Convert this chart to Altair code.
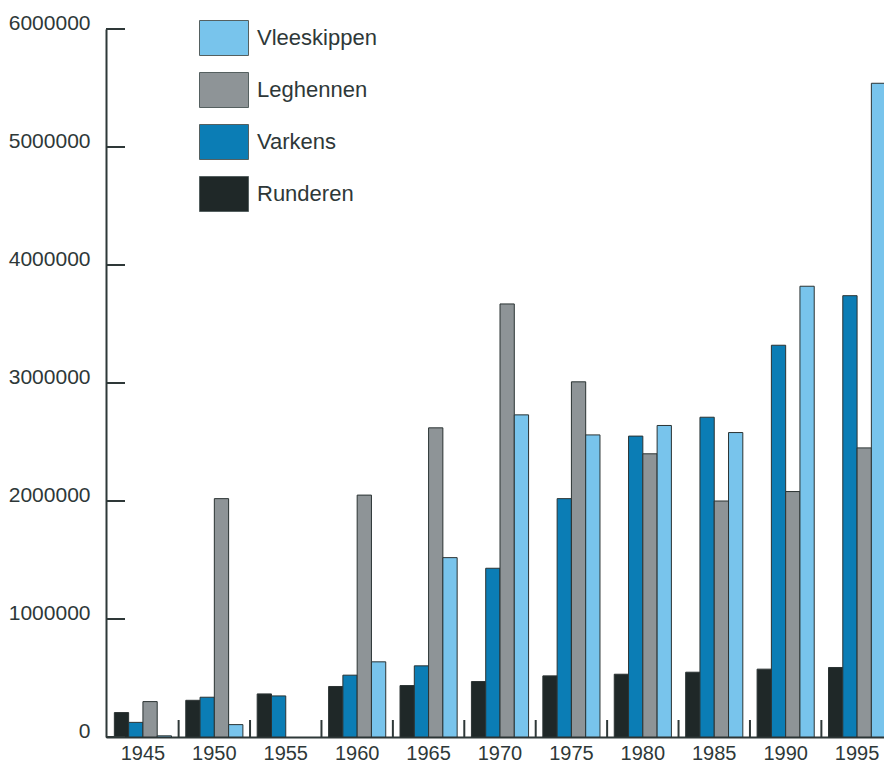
import altair as alt
import pandas as pd

years = ["1945", "1950", "1955", "1960", "1965", "1970", "1975", "1980", "1985", "1990", "1995"]
runderen = [207000, 311000, 365000, 428000, 436000, 470000, 518000, 532000, 549000, 575000, 589000]
varkens = [124000, 337000, 348000, 524000, 603000, 1430000, 2020000, 2550000, 2710000, 3320000, 3740000]
leghennen = [300000, 2020000, None, 2050000, 2620000, 3670000, 3010000, 2400000, 2000000, 2080000, 2450000]
vleeskippen = [10000, 105000, None, 637000, 1520000, 2730000, 2560000, 2640000, 2580000, 3820000, 5540000]

series_order = ["Runderen", "Varkens", "Leghennen", "Vleeskippen"]
legend_order = ["Vleeskippen", "Leghennen", "Varkens", "Runderen"]
legend_colors = ["#78c4ec", "#8e9497", "#0b7db5", "#1f2828"]
y_ticks = [0, 1000000, 2000000, 3000000, 4000000, 5000000, 6000000]

rows = []
for name, vals in zip(series_order, [runderen, varkens, leghennen, vleeskippen]):
    for yr, v in zip(years, vals):
        rows.append({"jaar": yr, "soort": name, "aantal": v})
df = pd.DataFrame(rows)
sep_df = pd.DataFrame({"jaar": years})
tick_df = pd.DataFrame({"aantal": y_ticks})

W, H = 778, 708
FONT = "Liberation Sans"
TXT = "#2e3838"
LINE = "#2e3838"

xscale = alt.Scale(domain=years, paddingInner=0, paddingOuter=0.017, range=[0, 788])
yscale = alt.Scale(domain=[0, 6000000], nice=False)
xaxis = alt.Axis(title=None, labelAngle=0)
yaxis = alt.Axis(title=None, values=y_ticks, format="d")

bars = alt.Chart(df).mark_bar(stroke="#2b3333", strokeWidth=1).encode(
    x=alt.X("jaar:N", scale=xscale, sort=years, axis=xaxis),
    xOffset=alt.XOffset("soort:N", sort=series_order,
                        scale=alt.Scale(domain=series_order, paddingInner=0, paddingOuter=0.5)),
    y=alt.Y("aantal:Q", scale=yscale, axis=yaxis),
    color=alt.Color("soort:N", scale=alt.Scale(domain=legend_order, range=legend_colors),
                    legend=alt.Legend(orient="none", legendX=100, legendY=-9, title=None,
                                      symbolType="M-1.4,-1L1.4,-1L1.4,1L-1.4,1Z",
                                      symbolSize=1225, symbolStrokeColor="#556060",
                                      symbolStrokeWidth=1, symbolOpacity=1,
                                      labelFont=FONT, labelFontSize=22, labelColor=TXT,
                                      rowPadding=12, labelOffset=15, padding=0)),
)

separators = alt.Chart(sep_df).mark_rule(color=LINE, strokeWidth=2).encode(
    x=alt.X("jaar:N", bandPosition=1, scale=xscale, sort=years, axis=xaxis),
    y=alt.value(H),
    y2=alt.value(H - 17),
)

yticks = alt.Chart(tick_df).mark_rule(color=LINE, strokeWidth=2).encode(
    y=alt.Y("aantal:Q", scale=yscale, axis=yaxis),
    x=alt.value(0),
    x2=alt.value(19),
)

chart = alt.layer(bars, separators, yticks).properties(
    width=W, height=H, autosize="none",
    padding={"left": 98, "top": 21, "right": 0, "bottom": 25},
    background="white",
).configure_view(stroke=None).configure_axisX(
    ticks=False, domain=True, domainColor=LINE, domainWidth=2, grid=False,
    labelFont=FONT, labelFontSize=20, labelColor=TXT, labelPadding=6,
).configure_axisY(
    ticks=False, domain=True, domainColor=LINE, domainWidth=2, grid=False,
    labelBaseline="alphabetic", labelPadding=16, labelFont=FONT,
    labelFontSize=21, labelColor=TXT,
)

chart.save("out.html", embed_options={"renderer": "svg", "actions": False})
